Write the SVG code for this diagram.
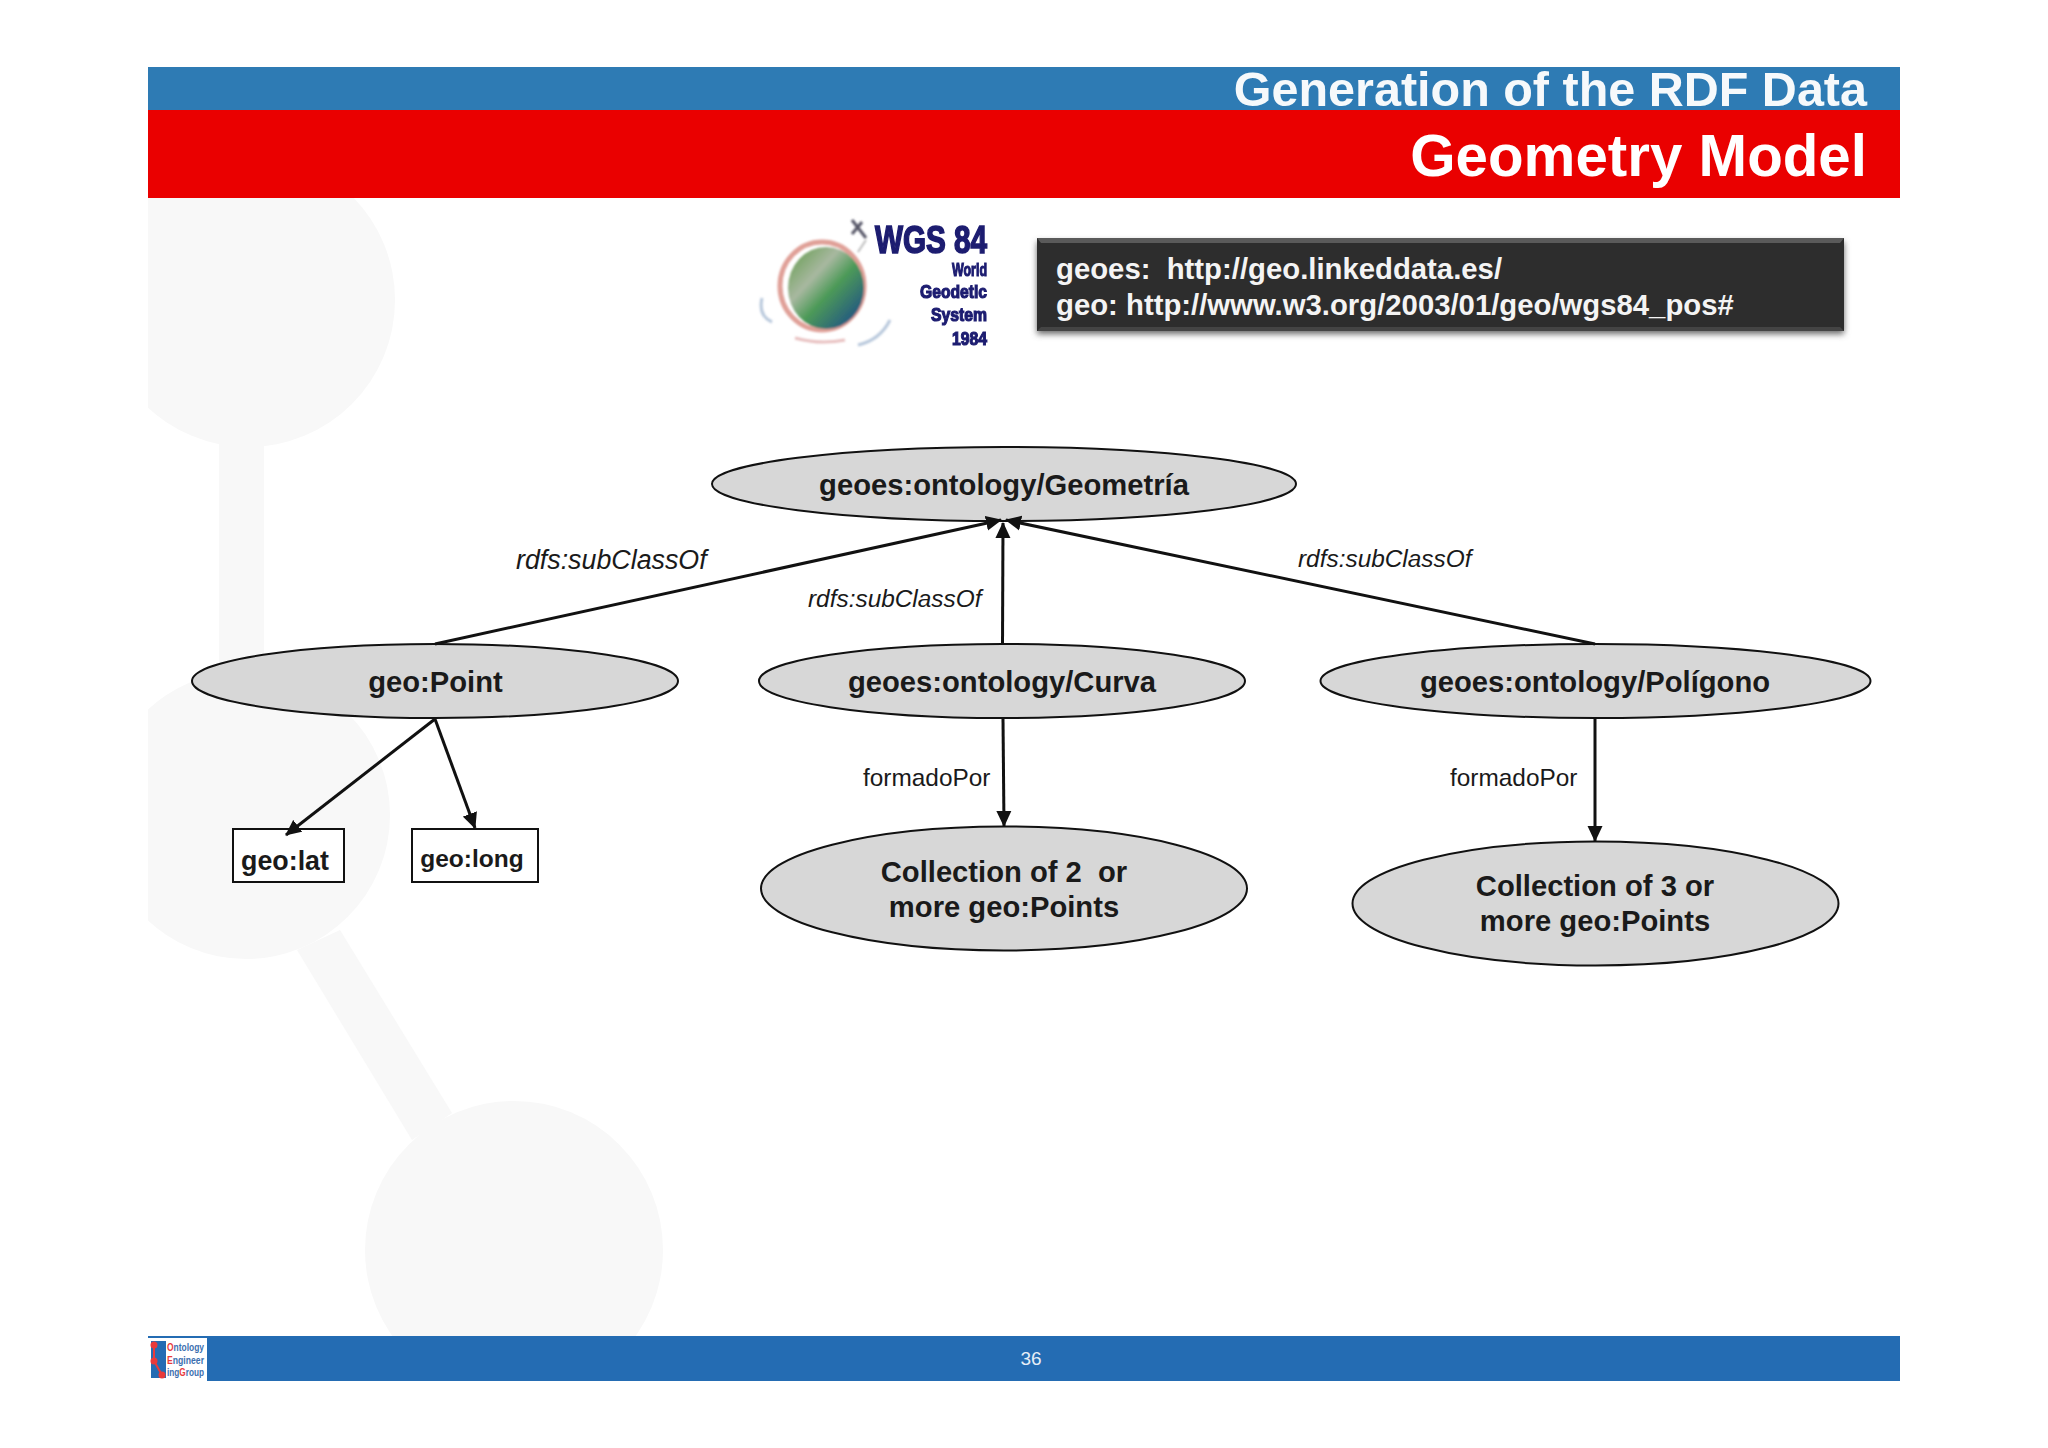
<svg xmlns="http://www.w3.org/2000/svg" width="2048" height="1448" viewBox="0 0 2048 1448">
<style>
text{font-family:"Liberation Sans",Arial,sans-serif}
.n{font-weight:bold;font-size:29.2px;fill:#1a1a1a;text-anchor:middle}
.e{fill:#d7d7d7;stroke:#111;stroke-width:2}
.b{fill:#fff;stroke:#111;stroke-width:2}
.l{font-size:24.4px;fill:#1a1a1a}
.c line{stroke:#111;stroke-width:3}
.r{fill:#ea3a3a}
</style>
<defs>
<marker id="a" markerUnits="userSpaceOnUse" markerWidth="16" markerHeight="16" refX="15" refY="8" orient="auto"><path d="M0 0.500L16 8L0 15.500Z" fill="#111"/></marker>
<filter id="s" x="-5%" y="-20%" width="110%" height="140%"><feGaussianBlur stdDeviation="3"/></filter>
<filter id="b1" x="-10%" y="-10%" width="120%" height="120%"><feGaussianBlur stdDeviation="1.2"/></filter>
<filter id="b2" x="-5%" y="-20%" width="110%" height="140%"><feGaussianBlur stdDeviation=".5"/></filter>
<linearGradient id="g" x1="0" y1="0" x2="1" y2="1"><stop offset="0" stop-color="#5f9a48"/><stop offset=".35" stop-color="#a8b8a0"/><stop offset=".55" stop-color="#4d9a58"/><stop offset="1" stop-color="#123f90"/></linearGradient>
<clipPath id="bg"><rect x="148" y="198" width="1752" height="1138"/></clipPath>
</defs>
<rect width="2048" height="1448" fill="#fff"/>
<g id="background" fill="#f8f8f8" clip-path="url(#bg)">
<circle cx="248" cy="300" r="147"/>
<rect x="219" y="440" width="45" height="260"/>
<circle cx="246" cy="815" r="144"/>
<path d="M297 950L340 930L452 1113L412 1140Z"/>
<circle cx="514" cy="1250" r="149"/>
</g>
<g id="header">
<rect x="148" y="67" width="1752" height="43" fill="#2e7bb4"/>
<rect x="148" y="110" width="1752" height="88" fill="#ea0000"/>
<text x="1867" y="106" font-size="48.5" font-weight="bold" fill="#f6f9fb" text-anchor="end">Generation of the RDF Data</text>
<text x="1867" y="176" font-size="58.3" font-weight="bold" fill="#fff" text-anchor="end">Geometry Model</text>
</g>
<g id="wgs-logo">
<g filter="url(#b1)">
<ellipse cx="822" cy="286" rx="42" ry="44" fill="none" stroke="#e0a098" stroke-width="5"/>
<ellipse cx="826" cy="288" rx="38" ry="41" fill="url(#g)"/>
<path d="M852 220L866 238M862 222L852 234" stroke="#556" stroke-width="3"/>
<path d="M866 240L858 252" stroke="#bbb" stroke-width="2"/>
<path d="M762 298Q758 316 772 322M890 320Q880 340 858 345" fill="none" stroke="#b8c8dc" stroke-width="3"/>
<path d="M795 338Q820 345 845 340" fill="none" stroke="#e8c0c0" stroke-width="3"/>
</g>
<g filter="url(#b2)" font-weight="bold" fill="#1b1b70" stroke="#1b1b70">
<text x="875" y="253" font-size="38" stroke-width="1.6" textLength="112" lengthAdjust="spacingAndGlyphs">WGS 84</text>
<g font-size="19" stroke-width="1.2">
<text x="952" y="276" textLength="35" lengthAdjust="spacingAndGlyphs">World</text>
<text x="920" y="298" textLength="67" lengthAdjust="spacingAndGlyphs">Geodetic</text>
<text x="931" y="321" textLength="56" lengthAdjust="spacingAndGlyphs">System</text>
<text x="952" y="345" textLength="35" lengthAdjust="spacingAndGlyphs">1984</text>
</g>
</g>
</g>
<g id="prefix-box">
<rect x="1037" y="242" width="807" height="92" fill="#666" filter="url(#s)"/>
<rect x="1037" y="238" width="807" height="93" fill="#2d2d2d"/>
<path d="M1037 238H1844L1840 243H1041Z" fill="#5a5a5a"/>
<path d="M1037 331H1844L1840 327H1041Z" fill="#444"/>
<text x="1056" y="279" font-size="29.3" font-weight="bold" fill="#f4f4f4" xml:space="preserve">geoes:  http://geo.linkeddata.es/</text>
<text x="1056" y="315" font-size="29.3" font-weight="bold" fill="#f4f4f4">geo: http://www.w3.org/2003/01/geo/wgs84_pos#</text>
</g>
<g id="geometria"><ellipse class="e" cx="1004" cy="484" rx="292" ry="37"/><text class="n" x="1004" y="495">geoes:ontology/Geometría</text></g>
<g id="point"><ellipse class="e" cx="435" cy="681" rx="243" ry="37"/><text class="n" x="435.500" y="692">geo:Point</text></g>
<g id="curva"><ellipse class="e" cx="1002" cy="681" rx="243" ry="37"/><text class="n" x="1002" y="692">geoes:ontology/Curva</text></g>
<g id="poligono"><ellipse class="e" cx="1595.500" cy="681" rx="275" ry="37"/><text class="n" x="1595" y="692">geoes:ontology/Polígono</text></g>
<g id="lat"><rect class="b" x="233" y="829" width="111" height="53"/><text class="n" x="285" y="870" style="font-size:26.8px">geo:lat</text></g>
<g id="long"><rect class="b" x="412" y="829" width="126" height="53"/><text class="n" x="472" y="867" style="font-size:24.500px">geo:long</text></g>
<g id="coll2"><ellipse class="e" cx="1004" cy="888.500" rx="243" ry="62"/><text class="n" x="1004" y="882" xml:space="preserve">Collection of 2  or</text><text class="n" x="1004" y="917">more geo:Points</text></g>
<g id="coll3"><ellipse class="e" cx="1595.500" cy="903.500" rx="243" ry="62"/><text class="n" x="1595" y="896">Collection of 3 or</text><text class="n" x="1595" y="931">more geo:Points</text></g>
<g id="connectors" class="c">
<line x1="435" y1="644" x2="1001" y2="520" marker-end="url(#a)"/>
<line x1="1002.500" y1="644" x2="1003" y2="523" marker-end="url(#a)"/>
<line x1="1595" y1="644" x2="1006" y2="520" marker-end="url(#a)"/>
<line x1="435" y1="719" x2="286" y2="835" marker-end="url(#a)"/>
<line x1="435" y1="719" x2="475" y2="828" marker-end="url(#a)"/>
<line x1="1003" y1="719" x2="1004" y2="826" marker-end="url(#a)"/>
<line x1="1595" y1="719" x2="1595" y2="841" marker-end="url(#a)"/>
</g>
<g id="edge-labels">
<text class="l" x="516" y="569" font-style="italic" style="font-size:26.8px">rdfs:subClassOf</text>
<text class="l" x="808" y="607" font-style="italic">rdfs:subClassOf</text>
<text class="l" x="1298" y="567" font-style="italic">rdfs:subClassOf</text>
<text class="l" x="863" y="786">formadoPor</text>
<text class="l" x="1450" y="786">formadoPor</text>
</g>
<g id="footer">
<rect x="207" y="1336" width="1693" height="45" fill="#246cb3"/>
<rect x="148" y="1336" width="59" height="2" fill="#246cb3"/>
<rect x="151" y="1341" width="15" height="37" fill="#246cb3"/>
<path d="M154 1345V1361L162 1375" fill="none" stroke="#ea3a3a" stroke-width="2"/>
<circle class="r" cx="154" cy="1345" r="3.500"/><circle class="r" cx="154" cy="1361" r="3.500"/><circle class="r" cx="162" cy="1375" r="3.500"/>
<g font-size="10" font-weight="bold" fill="#3b6fb0">
<text x="167" y="1351" textLength="37" lengthAdjust="spacingAndGlyphs"><tspan class="r">O</tspan>ntology</text>
<text x="167" y="1363.500" textLength="37" lengthAdjust="spacingAndGlyphs"><tspan class="r">E</tspan>ngineer</text>
<text x="167" y="1376" textLength="37" lengthAdjust="spacingAndGlyphs">ing<tspan class="r">G</tspan>roup</text>
</g>
<text x="1031" y="1365" font-size="19" fill="#e6eef7" text-anchor="middle">36</text>
</g>
</svg>
